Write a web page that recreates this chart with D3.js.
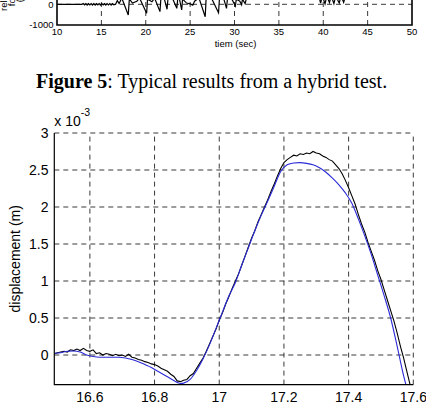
<!DOCTYPE html>
<html>
<head>
<meta charset="utf-8">
<script src="https://cdn.jsdelivr.net/npm/d3@7"></script>
<style>
  body { margin: 0; background: #fff; }
  svg { display: block; background: #fff; }
  text { font-family: Arial, "Liberation Sans", sans-serif; fill: #000; }
</style>
</head>
<body>
<svg id="fig" width="426" height="404"></svg>
<script>
// ---- data: upper (cropped) force history ----
const forceXTicks = [10, 15, 20, 25, 30, 35, 40, 45, 50];
const forceYTicks = [-1000, 0];
const forceLabelLines = ['relative', 'force', '(N)'];
const forceHistory = [
  [10, 0], [12.8, 0], [12.95, 35], [13.1, -30], [13.25, 35], [13.4, -35], [13.55, 30],
  [13.7, -30], [13.85, 35], [14.0, -35], [14.15, 30], [14.3, -35], [14.45, 35], [14.6, -30],
  [14.75, 35], [14.9, -35], [15.05, 30], [15.2, -30], [15.35, 35], [15.5, -35], [15.65, 30],
  [15.8, -30], [15.95, 35], [16.1, -35], [16.25, 30], [16.4, -30], [16.6, 0],
  [16.8, 180], [17.0, 40], [17.3, 300], [18.03, -520], [18.15, 260], [18.5, 60], [19.0, 150],
  [19.3, 300], [20.1, -435], [20.2, 250], [20.7, 120], [21.0, 300], [21.6, -355], [21.7, 250],
  [22.1, 250], [22.4, -240], [22.5, 250], [23.0, 300], [23.5, -195], [23.6, 250], [23.8, 250],
  [24.05, -275], [24.15, 250], [24.6, 60], [25.0, 20], [25.3, -40], [25.5, 150], [26.0, 300],
  [26.7, -600], [26.8, 260], [27.4, 300], [28.2, -405], [28.3, 250], [28.8, 250], [29.1, -195],
  [29.2, 250], [29.7, 250], [30.1, -80], [30.2, 250], [30.6, 150], [30.8, -20], [30.9, 250],
  [31.2, 30], [31.4, 400], [39.5, 400], [39.7, 60], [39.9, 400], [40.2, 20], [40.4, 400],
  [40.7, 80], [40.9, 400], [41.2, 30], [41.4, 400], [41.8, 60], [42.0, 400], [42.3, 90],
  [42.5, 400], [43.5, 400]
];

// ---- data: displacement (x 1e-3 m) ----
const dispXTicks = [16.6, 16.8, 17, 17.2, 17.4, 17.6];
const dispYTicks = [0, 0.5, 1, 1.5, 2, 2.5, 3];
const measured = [
  [16.49, 0.02], [16.50, 0.03], [16.51, 0.04], [16.52, 0.05], [16.53, 0.04], [16.54, 0.07],
  [16.55, 0.06], [16.56, 0.08], [16.57, 0.06], [16.58, 0.09], [16.59, 0.06], [16.60, 0.05],
  [16.61, 0.07], [16.62, 0.02], [16.63, 0.03], [16.64, 0.00], [16.65, 0.02], [16.66, 0.01],
  [16.67, -0.01], [16.68, 0.01], [16.69, -0.01], [16.70, 0.00], [16.71, -0.02], [16.72, 0.01],
  [16.73, -0.03], [16.74, -0.04], [16.75, -0.06], [16.76, -0.07], [16.77, -0.09], [16.78, -0.10],
  [16.79, -0.12], [16.80, -0.13], [16.81, -0.15], [16.82, -0.18], [16.83, -0.20], [16.84, -0.22],
  [16.85, -0.26], [16.86, -0.29], [16.87, -0.35], [16.88, -0.36], [16.89, -0.34], [16.90, -0.33],
  [16.91, -0.28], [16.92, -0.25], [16.93, -0.18], [16.94, -0.11], [16.95, -0.04], [16.96, 0.05],
  [16.97, 0.15], [16.98, 0.25], [16.99, 0.35], [17.00, 0.47], [17.01, 0.57], [17.02, 0.69],
  [17.03, 0.79], [17.04, 0.90], [17.05, 1.00], [17.06, 1.10], [17.07, 1.22], [17.08, 1.34],
  [17.09, 1.46], [17.10, 1.58], [17.11, 1.68], [17.12, 1.80], [17.13, 1.90], [17.14, 2.00],
  [17.15, 2.10], [17.16, 2.21], [17.17, 2.31], [17.18, 2.42], [17.19, 2.52], [17.20, 2.60],
  [17.21, 2.64], [17.22, 2.67], [17.23, 2.70], [17.24, 2.69], [17.25, 2.72], [17.26, 2.71],
  [17.27, 2.73], [17.28, 2.72], [17.29, 2.75], [17.30, 2.73], [17.31, 2.72], [17.32, 2.69],
  [17.33, 2.67], [17.34, 2.64], [17.35, 2.62], [17.36, 2.57], [17.37, 2.52], [17.38, 2.45],
  [17.39, 2.36], [17.40, 2.26], [17.41, 2.15], [17.42, 2.04], [17.43, 1.90], [17.44, 1.77],
  [17.45, 1.66], [17.46, 1.52], [17.47, 1.40], [17.48, 1.28], [17.49, 1.14], [17.50, 1.02],
  [17.51, 0.88], [17.52, 0.74], [17.53, 0.60], [17.54, 0.46], [17.55, 0.30], [17.56, 0.12],
  [17.57, -0.04], [17.58, -0.22], [17.59, -0.40]
];
const simulated = [
  [16.49, 0.02], [16.51, 0.03], [16.53, 0.05], [16.55, 0.055], [16.57, 0.04], [16.59, 0.00],
  [16.61, -0.02], [16.63, -0.03], [16.65, -0.03], [16.67, -0.03], [16.69, -0.03], [16.71, -0.04],
  [16.73, -0.06], [16.75, -0.09], [16.77, -0.13], [16.79, -0.17], [16.81, -0.22], [16.83, -0.27],
  [16.85, -0.32], [16.87, -0.37], [16.88, -0.385], [16.89, -0.38], [16.91, -0.33], [16.93, -0.21],
  [16.95, -0.05], [16.97, 0.14], [16.99, 0.36], [17.01, 0.58], [17.03, 0.80], [17.05, 0.98],
  [17.07, 1.22], [17.09, 1.45], [17.11, 1.68], [17.13, 1.89], [17.15, 2.08], [17.17, 2.28],
  [17.19, 2.48], [17.21, 2.57], [17.23, 2.595], [17.25, 2.60], [17.27, 2.59], [17.29, 2.57],
  [17.31, 2.53], [17.33, 2.47], [17.35, 2.39], [17.37, 2.30], [17.39, 2.19], [17.41, 2.05],
  [17.43, 1.84], [17.45, 1.61], [17.47, 1.36], [17.49, 1.08], [17.51, 0.80], [17.53, 0.50],
  [17.55, 0.12], [17.57, -0.28], [17.58, -0.45]
];

const svg = d3.select('#fig');
const GRID = '#3a3a3a';

// ================= upper chart (only its bottom strip is visible) =================
const fx = d3.scaleLinear().domain([10, 50]).range([57, 412]);
const fy = d3.scaleLinear().domain([-1000, 0]).range([25, 4.3]);
const upper = svg.append('g');

upper.append('clipPath').attr('id', 'clipTop')
  .append('rect').attr('x', fx(10)).attr('y', -50).attr('width', fx(50) - fx(10)).attr('height', fy(-1000) + 50);

// grid
upper.selectAll('.vgrid').data(forceXTicks.slice(1, -1)).enter().append('line')
  .attr('x1', (d) => fx(d)).attr('x2', (d) => fx(d))
  .attr('y1', fy(-1000)).attr('y2', -5)
  .attr('stroke', GRID).attr('stroke-width', 1).attr('stroke-dasharray', '5,4');
upper.append('line')
  .attr('x1', fx(10)).attr('x2', fx(50)).attr('y1', fy(0)).attr('y2', fy(0))
  .attr('stroke', GRID).attr('stroke-width', 1).attr('stroke-dasharray', '5,4');

// trace
upper.append('path').datum(forceHistory)
  .attr('clip-path', 'url(#clipTop)')
  .attr('fill', 'none').attr('stroke', '#000').attr('stroke-width', 1.2)
  .attr('d', d3.line().x((d) => fx(d[0])).y((d) => fy(d[1])));

// box
upper.append('path')
  .attr('d', `M${fx(10)},-5V${fy(-1000)}H${fx(50)}V-5`)
  .attr('fill', 'none').attr('stroke', '#000').attr('stroke-width', 1.6);

// tick labels
upper.selectAll('.fxl').data(forceXTicks).enter().append('text')
  .attr('x', (d) => fx(d)).attr('y', 35)
  .attr('text-anchor', 'middle').style('font-size', '9.5px')
  .text((d) => d);
upper.selectAll('.fyl').data(forceYTicks).enter().append('text')
  .attr('x', 53.5).attr('y', (d) => fy(d) + 3.3)
  .attr('text-anchor', 'end').style('font-size', '9.5px')
  .text((d) => d);
upper.append('text').attr('x', (fx(10) + fx(50)) / 2 + 1).attr('y', 46.5)
  .attr('text-anchor', 'middle').style('font-size', '9.5px').text('tiem (sec)');
upper.selectAll('.fylab').data(forceLabelLines).enter().append('text')
  .attr('transform', (d, i) => `translate(${7 + i * 8},-4.3) rotate(-90)`)
  .attr('text-anchor', 'middle').style('font-size', '9.5px')
  .text((d) => d);

// ================= caption =================
const cap = svg.append('text').attr('x', 36).attr('y', 88.3)
  .style('font-family', '"Times New Roman", "Liberation Serif", serif').style('font-size', '20px');
cap.append('tspan').style('font-weight', 'bold').text('Figure 5');
cap.append('tspan').text(': Typical results from a hybrid test.');

// ================= displacement chart =================
const x = d3.scaleLinear().domain([16.49, 17.6]).range([54.3, 413.3]);
const y = d3.scaleLinear().domain([-0.4, 3]).range([384.6, 133]);
const g = svg.append('g');

g.append('clipPath').attr('id', 'clipMain')
  .append('rect').attr('x', x(16.49)).attr('y', y(3)).attr('width', x(17.6) - x(16.49)).attr('height', y(-0.4) - y(3));

// grid
g.selectAll('.vg').data(dispXTicks).enter().append('line')
  .attr('x1', (d) => x(d)).attr('x2', (d) => x(d))
  .attr('y1', y(-0.4)).attr('y2', y(3))
  .attr('stroke', GRID).attr('stroke-width', 1).attr('stroke-dasharray', '5,4');
g.selectAll('.hg').data(dispYTicks).enter().append('line')
  .attr('x1', x(16.49)).attr('x2', x(17.6))
  .attr('y1', (d) => y(d)).attr('y2', (d) => y(d))
  .attr('stroke', GRID).attr('stroke-width', 1).attr('stroke-dasharray', '5,4');

// series
const line = d3.line().x((d) => x(d[0])).y((d) => y(d[1]));
g.append('path').datum(measured)
  .attr('clip-path', 'url(#clipMain)')
  .attr('fill', 'none').attr('stroke', '#000').attr('stroke-width', 1.1)
  .attr('d', line);
g.append('path').datum(simulated)
  .attr('clip-path', 'url(#clipMain)')
  .attr('fill', 'none').attr('stroke', '#2a2ad8').attr('stroke-width', 1.1)
  .attr('d', line.curve(d3.curveMonotoneX));

// axes (left and bottom only)
g.append('path')
  .attr('d', `M${x(16.49)},${y(3)}V${y(-0.4)}H${x(17.6)}`)
  .attr('fill', 'none').attr('stroke', '#000').attr('stroke-width', 1.2);

// tick labels
g.selectAll('.xl').data(dispXTicks).enter().append('text')
  .attr('x', (d) => x(d)).attr('y', 401.5)
  .attr('text-anchor', 'middle').style('font-size', '14px')
  .text((d) => d);
g.selectAll('.yl').data(dispYTicks).enter().append('text')
  .attr('x', 48.5).attr('y', (d) => y(d) + 5)
  .attr('text-anchor', 'end').style('font-size', '14px')
  .text((d) => d);

// exponent
const ex = g.append('text').attr('x', 54.3).attr('y', 126).style('font-size', '14px');
ex.append('tspan').text('x 10');
ex.append('tspan').attr('dy', -10).style('font-size', '10.5px').text('-3');

// y label
g.append('text')
  .attr('transform', `translate(19.5,${(y(3) + y(-0.4)) / 2}) rotate(-90)`)
  .attr('text-anchor', 'middle').style('font-size', '14px')
  .text('displacement (m)');
</script>
</body>
</html>
